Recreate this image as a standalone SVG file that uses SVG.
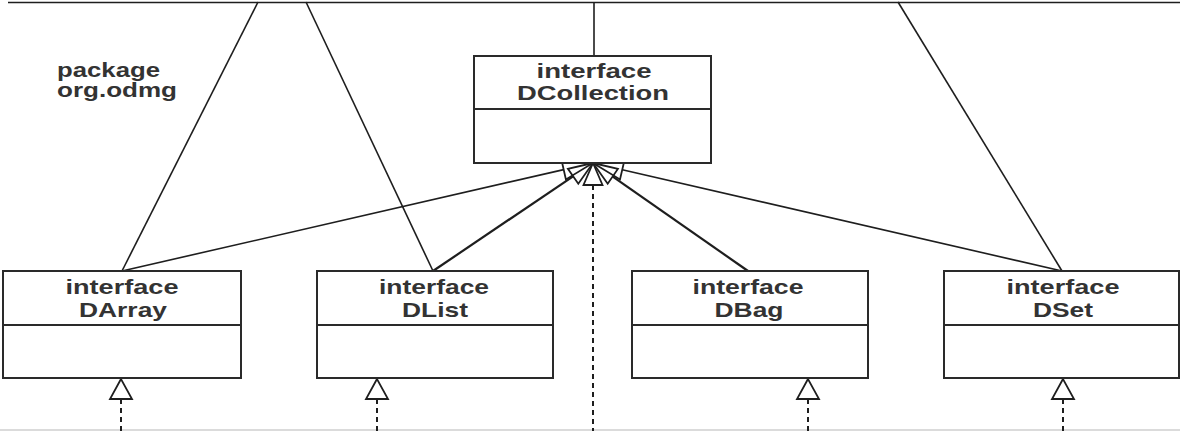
<svg xmlns="http://www.w3.org/2000/svg" width="1180" height="431" viewBox="0 0 1180 431">
<style>
.box{fill:#fff;stroke:#2a2a2a;stroke-width:2}
.div{stroke:#2a2a2a;stroke-width:2}
.ln{stroke:#1e1e1e;stroke-width:1.6;fill:none}
.thick{stroke:#1e1e1e;stroke-width:2.2;fill:none}
.dash{stroke:#1e1e1e;stroke-width:2;stroke-dasharray:5 4;fill:none}
.tri{fill:none;stroke:#1e1e1e;stroke-width:1.8;stroke-linejoin:miter}
.tri2{fill:#fff;stroke:#1e1e1e;stroke-width:1.8}
.t{font-family:"Liberation Sans",Arial,sans-serif;font-weight:bold;font-size:21px;fill:#333;text-anchor:middle}
.p{font-family:"Liberation Sans",Arial,sans-serif;font-weight:bold;font-size:20px;fill:#333}
</style>
<rect width="1180" height="431" fill="#fff"/>
<g id="connectors">
  <line class="ln" x1="8" y1="2.5" x2="1180" y2="2.5"/>
  <line x1="0" y1="430" x2="1180" y2="430" stroke="#cfcfcf" stroke-width="1.5"/>
  <line class="ln" x1="258" y1="2" x2="122" y2="271"/>
  <line class="ln" x1="306" y1="2" x2="433" y2="271"/>
  <line class="ln" x1="594" y1="2" x2="594" y2="56"/>
  <line class="ln" x1="898" y1="2" x2="1062" y2="271"/>
  <line class="ln" x1="122" y1="271" x2="563.7" y2="169.6"/>
  <line class="thick" x1="433" y1="271" x2="573.1" y2="176.3"/>
  <line class="dash" x1="593" y1="185" x2="593" y2="431"/>
  <line class="thick" x1="748" y1="271" x2="612.8" y2="176.6"/>
  <line class="ln" x1="1062" y1="271" x2="622.3" y2="169.7"/>
  <polygon class="tri" points="593,163 561.5,159.9 565.9,179.4"/>
  <polygon class="tri" points="593,163 567.9,168.8 578.3,183.8"/>
  <polygon class="tri" points="593,163 583.5,185 602.5,185"/>
  <polygon class="tri" points="593,163 607.7,183.7 617.9,168.9"/>
  <polygon class="tri" points="593,163 620.0,179.4 624.5,159.9"/>
  <polygon class="tri2" points="121,379 110,399 132,399"/>
  <line class="dash" x1="121" y1="399" x2="121" y2="431"/>
  <polygon class="tri2" points="377,379 366,399 388,399"/>
  <line class="dash" x1="377" y1="399" x2="377" y2="431"/>
  <polygon class="tri2" points="808,379 797,399 819,399"/>
  <line class="dash" x1="808" y1="399" x2="808" y2="431"/>
  <polygon class="tri2" points="1063,379 1052,399 1074,399"/>
  <line class="dash" x1="1063" y1="399" x2="1063" y2="431"/>
</g>
<g id="package-label">
  <text class="p" x="57" y="77" textLength="103" lengthAdjust="spacingAndGlyphs">package</text>
  <text class="p" x="57" y="97" textLength="120" lengthAdjust="spacingAndGlyphs">org.odmg</text>
</g>
<g id="DCollection">
  <rect class="box" x="474" y="56" width="237" height="107"/>
  <line class="div" x1="474" y1="109" x2="711" y2="109"/>
  <text class="t" x="594" y="78" textLength="115" lengthAdjust="spacingAndGlyphs">interface</text>
  <text class="t" x="593" y="100" textLength="152" lengthAdjust="spacingAndGlyphs">DCollection</text>
</g>
<g id="DArray">
  <rect class="box" x="3" y="271" width="238" height="107"/>
  <line class="div" x1="3" y1="325" x2="241" y2="325"/>
  <text class="t" x="122" y="294" textLength="113" lengthAdjust="spacingAndGlyphs">interface</text>
  <text class="t" x="123" y="317" textLength="88" lengthAdjust="spacingAndGlyphs">DArray</text>
</g>
<g id="DList">
  <rect class="box" x="317" y="271" width="236" height="107"/>
  <line class="div" x1="317" y1="325" x2="553" y2="325"/>
  <text class="t" x="434" y="294" textLength="110" lengthAdjust="spacingAndGlyphs">interface</text>
  <text class="t" x="435" y="317" textLength="66" lengthAdjust="spacingAndGlyphs">DList</text>
</g>
<g id="DBag">
  <rect class="box" x="632" y="271" width="236" height="107"/>
  <line class="div" x1="632" y1="325" x2="868" y2="325"/>
  <text class="t" x="748" y="294" textLength="111" lengthAdjust="spacingAndGlyphs">interface</text>
  <text class="t" x="749" y="317" textLength="69" lengthAdjust="spacingAndGlyphs">DBag</text>
</g>
<g id="DSet">
  <rect class="box" x="944" y="271" width="235" height="107"/>
  <line class="div" x1="944" y1="325" x2="1179" y2="325"/>
  <text class="t" x="1063" y="294" textLength="113" lengthAdjust="spacingAndGlyphs">interface</text>
  <text class="t" x="1063" y="317" textLength="60" lengthAdjust="spacingAndGlyphs">DSet</text>
</g>
</svg>
